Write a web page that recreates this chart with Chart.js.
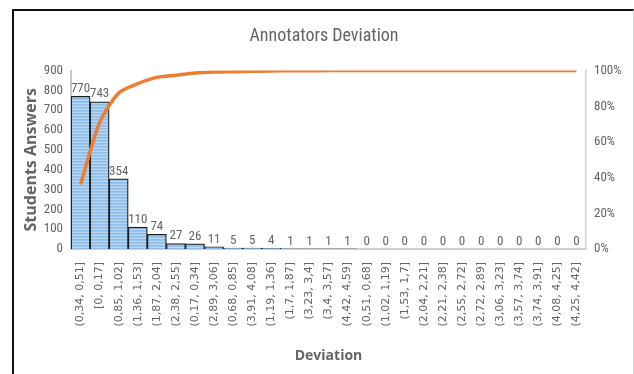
<!DOCTYPE html>
<html>
<head>
<meta charset="utf-8">
<script src="https://cdn.jsdelivr.net/npm/chart.js@4.4.1/dist/chart.umd.min.js"></script>
<style>
  html, body { margin: 0; padding: 0; background: #fff; }
  #wrap { position: relative; width: 634px; height: 374px; overflow: hidden; }
  #frame { position: absolute; left: 12px; top: 9px; width: 619px; height: 380px;
           border-left: 2px solid #111; border-top: 2px solid #111; border-right: 1px solid #d0d0d0; }
  canvas { position: absolute; left: 0; top: 0; }
</style>
</head>
<body>
<div id="wrap">
  <canvas id="c" width="634" height="374"></canvas>
  <div id="frame"></div>
</div>
<script>
const categories = [
  "(0,34, 0,51]", "[0, 0,17]", "(0,85, 1,02]", "(1,36, 1,53]", "(1,87, 2,04]",
  "(2,38, 2,55]", "(0,17, 0,34]", "(2,89, 3,06]", "(0,68, 0,85]", "(3,91, 4,08]",
  "(1,19, 1,36]", "(1,7, 1,87]", "(3,23, 3,4]", "(3,4, 3,57]", "(4,42, 4,59]",
  "(0,51, 0,68]", "(1,02, 1,19]", "(1,53, 1,7]", "(2,04, 2,21]", "(2,21, 2,38]",
  "(2,55, 2,72]", "(2,72, 2,89]", "(3,06, 3,23]", "(3,57, 3,74]", "(3,74, 3,91]",
  "(4,08, 4,25]", "(4,25, 4,42]"
];
const counts = [770, 743, 354, 110, 74, 27, 26, 11, 5, 5, 4, 1, 1, 1, 1, 0, 0, 0, 0, 0, 0, 0, 0, 0, 0, 0, 0];
const cumulativePct = [36.1, 70.9, 87.5, 92.7, 96.2, 97.4, 98.6, 99.2, 99.4, 99.6, 99.8, 99.9, 99.9, 100, 100,
  100, 100, 100, 100, 100, 100, 100, 100, 100, 100, 100, 100];
const leftTicks = [0, 100, 200, 300, 400, 500, 600, 700, 800, 900];
const rightTicks = [0, 20, 40, 60, 80, 100];

const NARROW = "'Liberation Sans Narrow', 'Roboto Condensed', 'Liberation Sans', sans-serif";
const GRAY = '#646464';

const pc = document.createElement('canvas');
pc.width = 4; pc.height = 3;
const px = pc.getContext('2d');
px.fillStyle = '#9cc6ee'; px.fillRect(0, 0, 4, 1);
px.fillStyle = '#b8d7f3'; px.fillRect(0, 1, 4, 1);
px.fillStyle = '#8ebce8'; px.fillRect(0, 2, 4, 1);
const ctx0 = document.getElementById('c').getContext('2d');
const barFill = ctx0.createPattern(pc, 'repeat');

const barLabels = {
  id: 'barLabels',
  afterDatasetsDraw(chart) {
    const meta = chart.getDatasetMeta(1);
    const ctx = chart.ctx;
    ctx.save();
    ctx.font = '13px ' + NARROW;
    ctx.fillStyle = GRAY;
    ctx.textAlign = 'center';
    ctx.textBaseline = 'bottom';
    meta.data.forEach((el, i) => {
      ctx.fillText(String(counts[i]), el.x, el.y - 1);
    });
    ctx.restore();
  }
};

new Chart(ctx0, {
  data: {
    labels: categories,
    datasets: [
      {
        type: 'line',
        label: 'Cumulative %',
        data: cumulativePct,
        yAxisID: 'y2',
        borderColor: '#ED7D31',
        borderWidth: 3.5,
        pointRadius: 0,
        tension: 0.25,
        fill: false,
        order: 0
      },
      {
        type: 'bar',
        label: 'Students Answers',
        data: counts,
        yAxisID: 'y',
        backgroundColor: barFill,
        borderColor: '#1e1e1e',
        borderWidth: 1.3,
        barPercentage: 1,
        categoryPercentage: 1,
        order: 1
      }
    ]
  },
  options: {
    responsive: false,
    animation: false,
    layout: { padding: { left: 14, right: 0, top: 0, bottom: 0 } },
    plugins: {
      legend: { display: false },
      tooltip: { enabled: false },
      title: {
        display: true,
        text: 'Annotators Deviation',
        color: GRAY,
        font: { family: NARROW, size: 18, weight: 'normal' },
        padding: { top: 26, bottom: 23 }
      }
    },
    scales: {
      x: {
        grid: { display: false, drawTicks: false },
        border: { display: true, color: '#d0d0d0', width: 2 },
        ticks: {
          color: GRAY,
          font: { family: "'DejaVu Sans', sans-serif", size: 11 },
          maxRotation: 90, minRotation: 90,
          autoSkip: false,
          padding: 13
        },
        title: {
          display: true,
          text: 'Deviation',
          color: GRAY,
          font: { family: "'Open Sans', sans-serif", size: 14, weight: 'bold' },
          padding: { top: 0, bottom: 10 }
        },
        afterFit(s) { s.height = 125; }
      },
      y: {
        position: 'left',
        min: 0, max: 900,
        afterBuildTicks(s) { s.ticks = leftTicks.map(v => ({ value: v })); },
        grid: { display: false, drawTicks: false },
        border: { display: true, color: '#c8c8c8', width: 2 },
        ticks: {
          color: GRAY,
          font: { family: NARROW, size: 13 },
          padding: 8
        },
        title: {
          display: true,
          text: 'Students Answers',
          color: GRAY,
          font: { family: "'Open Sans', sans-serif", size: 16, weight: 'bold' },
          padding: { top: 8, bottom: 0 }
        },
        afterFit(s) { s.width = 57; }
      },
      y2: {
        position: 'right',
        min: 0, max: 100,
        afterBuildTicks(s) { s.ticks = rightTicks.map(v => ({ value: v })); },
        grid: { display: false, drawTicks: false },
        border: { display: true, color: '#d0d0d0', width: 1.5 },
        ticks: {
          color: GRAY,
          font: { family: NARROW, size: 13 },
          padding: 8,
          callback: v => v + '%'
        },
        afterFit(s) { s.width = 48; }
      }
    }
  },
  plugins: [barLabels]
});
</script>
</body>
</html>
